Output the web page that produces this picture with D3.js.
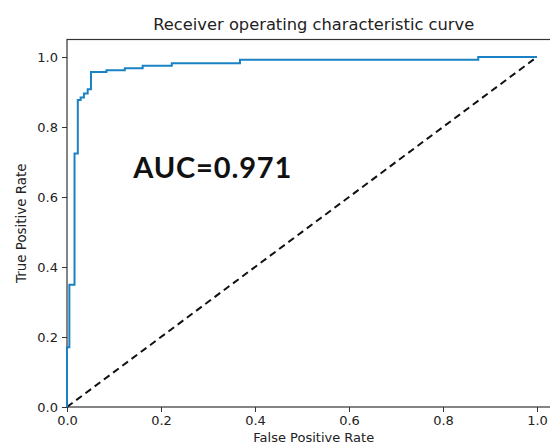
<!DOCTYPE html>
<html>
<head>
<meta charset="utf-8">
<script src="https://cdn.jsdelivr.net/npm/d3@7"></script>
<style>
  body { margin: 0; background: #fff; }
  svg { display: block; }
  .tick text { font-family: "DejaVu Sans", sans-serif; font-size: 13px; fill: #222; }
</style>
</head>
<body>
<div id="chart"></div>
<script>
// ROC curve points
const fpr = [0, 0, 0.005, 0.005, 0.016, 0.016, 0.023, 0.023, 0.029, 0.029, 0.036, 0.036,
             0.044, 0.044, 0.051, 0.051, 0.084, 0.084, 0.123, 0.123, 0.161, 0.161,
             0.223, 0.223, 0.368, 0.368, 0.875, 0.875, 1.0];
const tpr = [0, 0.171, 0.171, 0.349, 0.349, 0.724, 0.724, 0.877, 0.877, 0.884, 0.884, 0.896,
             0.896, 0.908, 0.908, 0.957, 0.957, 0.962, 0.962, 0.968, 0.968, 0.975,
             0.975, 0.982, 0.982, 0.992, 0.992, 1.0, 1.0];
const chance = [0, 1];
const xTicks = [0, 0.2, 0.4, 0.6, 0.8, 1.0];
const yTicks = [0, 0.2, 0.4, 0.6, 0.8, 1.0];
const aucLabel = "AUC=0.971";

const width = 550;
const height = 446;
const margin = {top: 39.5, right: -10.5, bottom: 39, left: 67};

const x = d3.scaleLinear()
    .domain([0, 1.05])
    .range([margin.left, width - margin.right]);

const y = d3.scaleLinear()
    .domain([0, 1.05])
    .range([height - margin.bottom, margin.top]);

const svg = d3.select("#chart").append("svg")
    .attr("width", width)
    .attr("height", height);

// frame
svg.append("rect")
    .attr("x", x(0))
    .attr("y", y(1.05))
    .attr("width", x(1.05) - x(0))
    .attr("height", y(0) - y(1.05))
    .attr("fill", "none")
    .attr("stroke", "#333")
    .attr("stroke-width", 1.2);

// chance line
svg.append("line")
    .attr("x1", x(chance[0])).attr("y1", y(chance[0]))
    .attr("x2", x(chance[1])).attr("y2", y(chance[1]))
    .attr("stroke", "#111")
    .attr("stroke-width", 2)
    .attr("stroke-dasharray", "7,4.5");

// roc curve
const line = d3.line()
    .x(i => x(fpr[i]))
    .y(i => y(tpr[i]));

svg.append("path")
    .attr("fill", "none")
    .attr("stroke", "#1a82c4")
    .attr("stroke-width", 2)
    .attr("stroke-linejoin", "miter")
    .attr("d", line(d3.range(fpr.length)));

// axes
svg.append("g")
    .attr("transform", `translate(0,${y(0)})`)
    .call(d3.axisBottom(x).tickValues(xTicks).tickFormat(d3.format(".1f")).tickSize(5).tickPadding(4))
    .call(g => g.select(".domain").remove())
    .call(g => g.selectAll(".tick line").attr("stroke", "#333"));

svg.append("g")
    .attr("transform", `translate(${x(0)},0)`)
    .call(d3.axisLeft(y).tickValues(yTicks).tickFormat(d3.format(".1f")).tickSize(5).tickPadding(4))
    .call(g => g.select(".domain").remove())
    .call(g => g.selectAll(".tick line").attr("stroke", "#333"));

// title and labels
svg.append("text")
    .attr("x", x(0.525))
    .attr("y", 30)
    .attr("text-anchor", "middle")
    .attr("font-family", "DejaVu Sans, sans-serif")
    .attr("font-size", 16.3)
    .attr("fill", "#222")
    .text("Receiver operating characteristic curve");

svg.append("text")
    .attr("x", x(0.525))
    .attr("y", 442)
    .attr("text-anchor", "middle")
    .attr("font-family", "DejaVu Sans, sans-serif")
    .attr("font-size", 13)
    .attr("fill", "#222")
    .text("False Positive Rate");

svg.append("text")
    .attr("transform", `translate(26,${y(0.525)}) rotate(-90)`)
    .attr("text-anchor", "middle")
    .attr("font-family", "DejaVu Sans, sans-serif")
    .attr("font-size", 13.4)
    .attr("fill", "#222")
    .text("True Positive Rate");

svg.append("text")
    .attr("x", x(0.141))
    .attr("y", y(0.655))
    .attr("font-family", "Lato, sans-serif")
    .attr("font-weight", "bold")
    .attr("font-size", 29)
    .attr("textLength", 158)
    .attr("lengthAdjust", "spacing")
    .attr("fill", "#111")
    .text(aucLabel);
</script>
</body>
</html>
